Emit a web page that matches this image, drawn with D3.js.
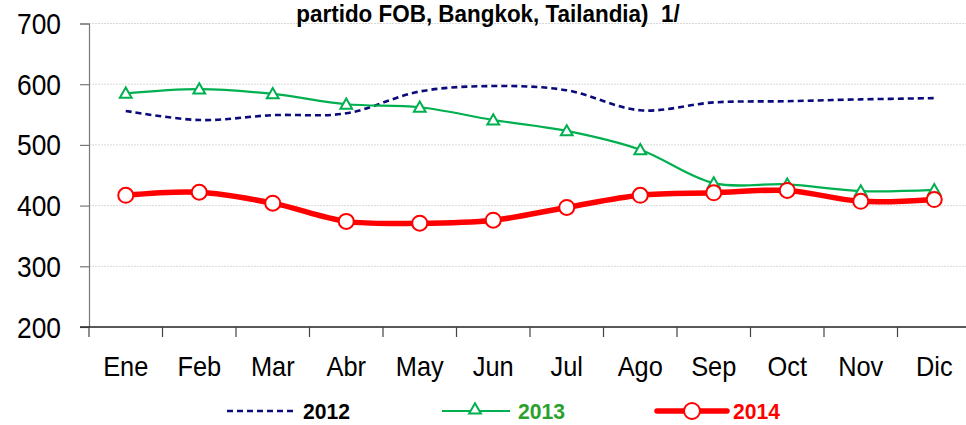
<!DOCTYPE html>
<html>
<head>
<meta charset="utf-8">
<script src="https://cdn.jsdelivr.net/npm/d3@7"></script>
<style>
  body { margin: 0; background: #fff; }
  svg { display: block; font-family: "Liberation Sans", Arial, sans-serif; }
</style>
</head>
<body>
<div id="chart"></div>
<script>
// data
var months = ["Ene", "Feb", "Mar", "Abr", "May", "Jun", "Jul", "Ago", "Sep", "Oct", "Nov", "Dic"];
var y2012 = [556, 541, 549, 552, 588, 597, 590, 557, 570, 572, 575, 577];
var y2013 = [585, 592, 584, 567, 562, 541, 523, 492, 437, 435, 424, 426];
var y2014 = [417, 422, 404, 374, 371, 376, 397, 417, 421, 425, 407, 410];
var yTicks = [200, 300, 400, 500, 600, 700];
var title = "partido FOB, Bangkok, Tailandia)  1/";

var W = 966, H = 425;

var svg = d3.select("#chart").append("svg")
    .attr("width", W)
    .attr("height", H);

// no Arial Narrow here, so squeeze Liberation Sans horizontally
function label(g, x, y, str, size, sx, opts) {
    opts = opts || {};
    return g.append("text")
        .attr("transform", "translate(" + x + "," + y + ") scale(" + sx + ",1)")
        .attr("text-anchor", opts.anchor || "start")
        .attr("font-size", size)
        .attr("font-weight", opts.weight || "normal")
        .attr("fill", opts.fill || "#000")
        .style("white-space", "pre")
        .text(str);
}

var x = d3.scaleBand()
    .domain(months)
    .range([89, 971]);

var y = d3.scaleLinear()
    .domain([200, 700])
    .range([327, 23.5]);

var cx = d => x(d) + x.bandwidth() / 2;

// gridlines
svg.append("g")
  .selectAll("line")
  .data(yTicks.slice(1))
  .enter().append("line")
    .attr("x1", 89).attr("x2", W)
    .attr("y1", d => y(d)).attr("y2", d => y(d))
    .attr("stroke", "#d9d9d9")
    .attr("stroke-dasharray", "2,1")
    .attr("stroke-width", 1);

// y axis
var yAxis = svg.append("g")
    .attr("transform", "translate(89,0)")
    .call(d3.axisLeft(y).tickValues(yTicks).tickSize(9).tickFormat(""));
yAxis.select(".domain").attr("stroke", "#777").attr("stroke-width", 1.2);
yAxis.selectAll(".tick line").attr("stroke", "#777").attr("stroke-width", 1.2);
yTicks.forEach(function(t) {
    label(svg, 61, y(t) + 10.5, String(t), 29, 0.91, {anchor: "end"});
});

// x axis (ticks on band edges)
var xg = svg.append("g")
    .attr("transform", "translate(0," + y(200) + ")");
xg.append("line")
    .attr("x1", 80).attr("x2", W)
    .attr("stroke", "#222").attr("stroke-width", 1.5);
xg.selectAll(".tk")
  .data(months)
  .enter().append("line")
    .attr("class", "tk")
    .attr("x1", d => x(d)).attr("x2", d => x(d))
    .attr("y1", 0).attr("y2", 10)
    .attr("stroke", "#444").attr("stroke-width", 1.2);
months.forEach(function(m) {
    label(xg, cx(m), 49, m, 27, 0.94, {anchor: "middle"});
});

var curve = d3.curveCatmullRom.alpha(0.5);
var line = d3.line()
    .x((d, i) => cx(months[i]))
    .y(d => y(d))
    .curve(curve);

// 2012
svg.append("path")
    .datum(y2012)
    .attr("d", line)
    .attr("fill", "none")
    .attr("stroke", "#0a0a7a")
    .attr("stroke-width", 2.6)
    .attr("stroke-dasharray", "6,4");

// 2013
svg.append("path")
    .datum(y2013)
    .attr("d", line)
    .attr("fill", "none")
    .attr("stroke", "#00b050")
    .attr("stroke-width", 2.2);

var tri = d3.symbol().type(d3.symbolTriangle).size(60);
svg.append("g")
  .selectAll("path")
  .data(y2013)
  .enter().append("path")
    .attr("d", tri)
    .attr("transform", (d, i) => "translate(" + cx(months[i]) + "," + (y(d) + 1) + ")")
    .attr("fill", "#fff")
    .attr("stroke", "#00b050")
    .attr("stroke-width", 2);

// 2014
svg.append("path")
    .datum(y2014)
    .attr("d", line)
    .attr("fill", "none")
    .attr("stroke", "#ff0000")
    .attr("stroke-width", 5.5);

svg.append("g")
  .selectAll("circle")
  .data(y2014)
  .enter().append("circle")
    .attr("cx", (d, i) => cx(months[i]))
    .attr("cy", d => y(d))
    .attr("r", 7.5)
    .attr("fill", "#fff")
    .attr("stroke", "#ff0000")
    .attr("stroke-width", 2);

// title (its first line is cut off in the source)
label(svg, 488, 22, title, 24, 0.935, {anchor: "middle", weight: "bold"});

// legend
var legY = 411;
var lg = svg.append("g");
lg.append("line")
    .attr("x1", 227).attr("x2", 297).attr("y1", legY).attr("y2", legY)
    .attr("stroke", "#0a0a7a").attr("stroke-width", 2.6).attr("stroke-dasharray", "6,4");
label(lg, 303, legY + 8, "2012", 22, 0.96, {weight: "bold"});

lg.append("line")
    .attr("x1", 442).attr("x2", 510).attr("y1", legY).attr("y2", legY)
    .attr("stroke", "#00b050").attr("stroke-width", 2.2);
lg.append("path")
    .attr("d", tri)
    .attr("transform", "translate(475," + (legY - 1) + ")")
    .attr("fill", "#fff").attr("stroke", "#00b050").attr("stroke-width", 2);
label(lg, 518, legY + 8, "2013", 22, 0.96, {weight: "bold", fill: "#2ca02c"});

lg.append("line")
    .attr("x1", 657).attr("x2", 727).attr("y1", legY).attr("y2", legY)
    .attr("stroke", "#ff0000").attr("stroke-width", 5.5).attr("stroke-linecap", "round");
lg.append("circle")
    .attr("cx", 692).attr("cy", legY).attr("r", 8)
    .attr("fill", "#fff").attr("stroke", "#ff0000").attr("stroke-width", 2);
label(lg, 733, legY + 8, "2014", 22, 0.96, {weight: "bold", fill: "#ff0000"});
</script>
</body>
</html>
